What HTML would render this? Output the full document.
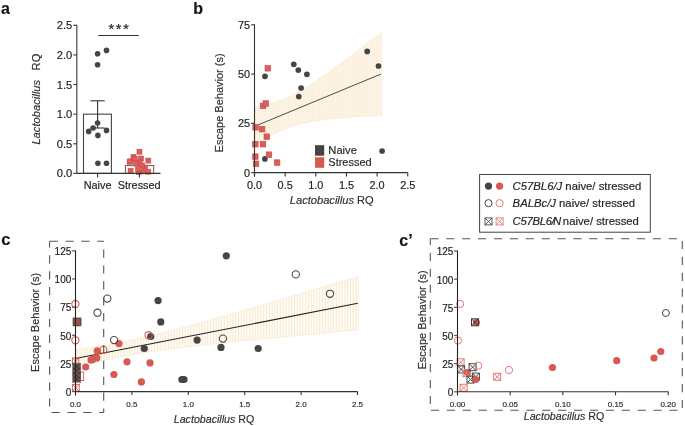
<!DOCTYPE html>
<html><head><meta charset="utf-8"><style>
html,body{margin:0;padding:0;background:#fff;width:685px;height:426px;overflow:hidden}
svg{display:block;font-family:'Liberation Sans',sans-serif}
.w{will-change:transform;filter:blur(0.3px)}
text{stroke:#2a2a2a;stroke-width:0.18px}
</style></head><body><div class="w">
<svg width="685" height="426" viewBox="0 0 685 426" style="font-family:'Liberation Sans',sans-serif">
<defs>
<pattern id="hb" width="2.2" height="10" patternUnits="userSpaceOnUse"><rect width="2.2" height="10" fill="#fdf5e6"/><rect width="0.8" height="10" fill="#fbeed9"/></pattern>
<pattern id="hc" width="2.8" height="10" patternUnits="userSpaceOnUse"><rect width="2.8" height="10" fill="#fefbf3"/><rect width="0.9" height="10" fill="#f8e9d1"/></pattern>
</defs>
<text x="1.00" y="13.70" font-size="16" text-anchor="start" fill="#111" font-weight="bold" >a</text>
<rect x="83.5" y="114.16" width="27.9" height="59.24" fill="white" stroke="#444" stroke-width="1.1"/>
<rect x="125.4" y="165.6" width="28.3" height="7.80" fill="white" stroke="#8a4a4a" stroke-width="1"/>
<line x1="97.60" y1="100.80" x2="97.60" y2="128.00" stroke="#333" stroke-width="1.1" />
<line x1="90.50" y1="100.80" x2="104.70" y2="100.80" stroke="#333" stroke-width="1.1" />
<line x1="90.50" y1="128.00" x2="104.70" y2="128.00" stroke="#333" stroke-width="1.1" />
<circle cx="97.6" cy="53.7" r="2.8" fill="#454545"/>
<circle cx="106.5" cy="50.4" r="2.8" fill="#454545"/>
<circle cx="97.6" cy="64.7" r="2.8" fill="#454545"/>
<circle cx="97.6" cy="123" r="2.8" fill="#454545"/>
<circle cx="93.1" cy="128" r="2.8" fill="#454545"/>
<circle cx="88.7" cy="131.4" r="2.8" fill="#454545"/>
<circle cx="106.5" cy="130.4" r="2.8" fill="#454545"/>
<circle cx="97.9" cy="135.4" r="2.8" fill="#454545"/>
<circle cx="97.9" cy="163.3" r="2.8" fill="#454545"/>
<circle cx="106.5" cy="163.3" r="2.8" fill="#454545"/>
<rect x="137.00" y="149.20" width="5.0" height="5.0" fill="#dc5e5a" stroke="#c44c49" stroke-width="0.6"/>
<rect x="131.00" y="154.50" width="5.0" height="5.0" fill="#dc5e5a" stroke="#c44c49" stroke-width="0.6"/>
<rect x="127.20" y="159.20" width="5.0" height="5.0" fill="#dc5e5a" stroke="#c44c49" stroke-width="0.6"/>
<rect x="138.50" y="156.00" width="5.0" height="5.0" fill="#dc5e5a" stroke="#c44c49" stroke-width="0.6"/>
<rect x="142.50" y="165.00" width="5.0" height="5.0" fill="#dc5e5a" stroke="#c44c49" stroke-width="0.6"/>
<rect x="132.20" y="156.10" width="5.0" height="5.0" fill="#dc5e5a" stroke="#c44c49" stroke-width="0.6"/>
<rect x="145.80" y="158.10" width="5.0" height="5.0" fill="#dc5e5a" stroke="#c44c49" stroke-width="0.6"/>
<rect x="127.70" y="158.90" width="5.0" height="5.0" fill="#dc5e5a" stroke="#c44c49" stroke-width="0.6"/>
<rect x="137.20" y="159.80" width="5.0" height="5.0" fill="#dc5e5a" stroke="#c44c49" stroke-width="0.6"/>
<rect x="133.50" y="161.00" width="5.0" height="5.0" fill="#dc5e5a" stroke="#c44c49" stroke-width="0.6"/>
<rect x="139.60" y="163.00" width="5.0" height="5.0" fill="#dc5e5a" stroke="#c44c49" stroke-width="0.6"/>
<rect x="128.10" y="168.40" width="5.0" height="5.0" fill="#dc5e5a" stroke="#c44c49" stroke-width="0.6"/>
<rect x="136.30" y="169.60" width="5.0" height="5.0" fill="#dc5e5a" stroke="#c44c49" stroke-width="0.6"/>
<rect x="141.30" y="168.80" width="5.0" height="5.0" fill="#dc5e5a" stroke="#c44c49" stroke-width="0.6"/>
<rect x="145.80" y="169.20" width="5.0" height="5.0" fill="#dc5e5a" stroke="#c44c49" stroke-width="0.6"/>
<rect x="135.50" y="166.70" width="5.0" height="5.0" fill="#dc5e5a" stroke="#c44c49" stroke-width="0.6"/>
<line x1="76.80" y1="24.80" x2="76.80" y2="173.90" stroke="#555" stroke-width="1.3" />
<line x1="73.30" y1="173.40" x2="76.80" y2="173.40" stroke="#444" stroke-width="1.2" />
<text x="72.30" y="177.40" font-size="11.2" text-anchor="end" fill="#222" font-weight="normal" >0.0</text>
<line x1="73.30" y1="143.78" x2="76.80" y2="143.78" stroke="#444" stroke-width="1.2" />
<text x="72.30" y="147.78" font-size="11.2" text-anchor="end" fill="#222" font-weight="normal" >0.5</text>
<line x1="73.30" y1="114.16" x2="76.80" y2="114.16" stroke="#444" stroke-width="1.2" />
<text x="72.30" y="118.16" font-size="11.2" text-anchor="end" fill="#222" font-weight="normal" >1.0</text>
<line x1="73.30" y1="84.54" x2="76.80" y2="84.54" stroke="#444" stroke-width="1.2" />
<text x="72.30" y="88.54" font-size="11.2" text-anchor="end" fill="#222" font-weight="normal" >1.5</text>
<line x1="73.30" y1="54.92" x2="76.80" y2="54.92" stroke="#444" stroke-width="1.2" />
<text x="72.30" y="58.92" font-size="11.2" text-anchor="end" fill="#222" font-weight="normal" >2.0</text>
<line x1="73.30" y1="25.30" x2="76.80" y2="25.30" stroke="#444" stroke-width="1.2" />
<text x="72.30" y="29.30" font-size="11.2" text-anchor="end" fill="#222" font-weight="normal" >2.5</text>
<line x1="76.80" y1="173.40" x2="160.50" y2="173.40" stroke="#333" stroke-width="1.2" />
<line x1="97.60" y1="173.40" x2="97.60" y2="177.40" stroke="#333" stroke-width="1.1" />
<line x1="139.40" y1="173.40" x2="139.40" y2="177.40" stroke="#333" stroke-width="1.1" />
<text x="97.60" y="189.10" font-size="10.9" text-anchor="middle" fill="#222" font-weight="normal" >Naive</text>
<text x="139.20" y="189.10" font-size="10.9" text-anchor="middle" fill="#222" font-weight="normal" >Stressed</text>
<text transform="translate(40.2,144.6) rotate(-90)" font-size="11.2" fill="#333"><tspan font-style="italic">Lactobacillus</tspan><tspan dx="9.5">RQ</tspan></text>
<line x1="98.30" y1="35.50" x2="138.70" y2="35.50" stroke="#333" stroke-width="1.1" />
<text x="111.30" y="34.20" font-size="14.5" text-anchor="middle" fill="#222" font-weight="normal" >*</text>
<text x="118.70" y="34.20" font-size="14.5" text-anchor="middle" fill="#222" font-weight="normal" >*</text>
<text x="126.10" y="34.20" font-size="14.5" text-anchor="middle" fill="#222" font-weight="normal" >*</text>
<text x="193.30" y="13.70" font-size="16" text-anchor="start" fill="#111" font-weight="bold" >b</text>
<polygon points="254.50,107.32 256.62,106.94 258.73,106.53 260.85,106.10 262.97,105.64 265.08,105.14 267.20,104.62 269.32,104.05 271.43,103.45 273.55,102.81 275.67,102.13 277.78,101.40 279.90,100.63 282.02,99.81 284.13,98.95 286.25,98.04 288.37,97.08 290.48,96.08 292.60,95.04 294.72,93.95 296.83,92.83 298.95,91.66 301.07,90.46 303.18,89.22 305.30,87.95 307.42,86.64 309.53,85.31 311.65,83.96 313.77,82.58 315.88,81.17 318.00,79.75 320.12,78.30 322.23,76.84 324.35,75.36 326.47,73.87 328.58,72.36 330.70,70.85 332.82,69.31 334.93,67.77 337.05,66.22 339.17,64.66 341.28,63.09 343.40,61.51 345.52,59.93 347.63,58.34 349.75,56.74 351.87,55.14 353.98,53.53 356.10,51.91 358.22,50.29 360.33,48.67 362.45,47.04 364.57,45.41 366.68,43.78 368.80,42.14 370.92,40.50 373.03,38.85 375.15,37.21 377.27,35.56 379.38,33.90 381.50,32.25 381.50,115.43 379.38,115.53 377.27,115.63 375.15,115.73 373.03,115.84 370.92,115.94 368.80,116.05 366.68,116.17 364.57,116.29 362.45,116.41 360.33,116.53 358.22,116.66 356.10,116.80 353.98,116.93 351.87,117.08 349.75,117.23 347.63,117.38 345.52,117.54 343.40,117.71 341.28,117.89 339.17,118.07 337.05,118.26 334.93,118.46 332.82,118.67 330.70,118.90 328.58,119.13 326.47,119.37 324.35,119.63 322.23,119.91 320.12,120.20 318.00,120.51 315.88,120.84 313.77,121.19 311.65,121.56 309.53,121.95 307.42,122.38 305.30,122.83 303.18,123.31 301.07,123.82 298.95,124.37 296.83,124.96 294.72,125.58 292.60,126.25 290.48,126.96 288.37,127.71 286.25,128.51 284.13,129.35 282.02,130.24 279.90,131.18 277.78,132.16 275.67,133.18 273.55,134.25 271.43,135.36 269.32,136.51 267.20,137.70 265.08,138.93 262.97,140.19 260.85,141.48 258.73,142.80 256.62,144.14 254.50,145.51" fill="url(#hb)" stroke="#f7e8cf" stroke-width="0.7"/>
<line x1="254.50" y1="126.42" x2="380.70" y2="74.17" stroke="#3a3a3a" stroke-width="0.9" />
<circle cx="265" cy="76.3" r="2.85" fill="#454545"/>
<circle cx="293.8" cy="64.3" r="2.85" fill="#454545"/>
<circle cx="298.3" cy="70.1" r="2.85" fill="#454545"/>
<circle cx="306.9" cy="74.3" r="2.85" fill="#454545"/>
<circle cx="301.1" cy="88" r="2.85" fill="#454545"/>
<circle cx="298.8" cy="96.6" r="2.85" fill="#454545"/>
<circle cx="367.2" cy="51.4" r="2.85" fill="#454545"/>
<circle cx="378.5" cy="66" r="2.85" fill="#454545"/>
<circle cx="382.1" cy="151" r="2.85" fill="#454545"/>
<circle cx="264.9" cy="158.9" r="2.85" fill="#454545"/>
<rect x="265.00" y="65.50" width="5.6" height="5.6" fill="#dc5e5a" stroke="#c44c49" stroke-width="0.6"/>
<rect x="260.20" y="103.10" width="5.6" height="5.6" fill="#dc5e5a" stroke="#c44c49" stroke-width="0.6"/>
<rect x="263.00" y="100.70" width="5.6" height="5.6" fill="#dc5e5a" stroke="#c44c49" stroke-width="0.6"/>
<rect x="252.80" y="124.50" width="5.6" height="5.6" fill="#dc5e5a" stroke="#c44c49" stroke-width="0.6"/>
<rect x="259.30" y="126.40" width="5.6" height="5.6" fill="#dc5e5a" stroke="#c44c49" stroke-width="0.6"/>
<rect x="264.00" y="133.90" width="5.6" height="5.6" fill="#dc5e5a" stroke="#c44c49" stroke-width="0.6"/>
<rect x="252.50" y="141.40" width="5.6" height="5.6" fill="#dc5e5a" stroke="#c44c49" stroke-width="0.6"/>
<rect x="260.20" y="141.40" width="5.6" height="5.6" fill="#dc5e5a" stroke="#c44c49" stroke-width="0.6"/>
<rect x="252.50" y="153.80" width="5.6" height="5.6" fill="#dc5e5a" stroke="#c44c49" stroke-width="0.6"/>
<rect x="266.20" y="151.90" width="5.6" height="5.6" fill="#dc5e5a" stroke="#c44c49" stroke-width="0.6"/>
<rect x="253.20" y="161.00" width="5.6" height="5.6" fill="#dc5e5a" stroke="#c44c49" stroke-width="0.6"/>
<rect x="274.30" y="159.80" width="5.6" height="5.6" fill="#dc5e5a" stroke="#c44c49" stroke-width="0.6"/>
<line x1="254.50" y1="24.30" x2="254.50" y2="176.60" stroke="#333" stroke-width="1.1" />
<line x1="251.20" y1="172.60" x2="254.50" y2="172.60" stroke="#333" stroke-width="1.1" />
<text x="250.00" y="176.50" font-size="10.9" text-anchor="end" fill="#222" font-weight="normal" >0</text>
<line x1="251.20" y1="123.33" x2="254.50" y2="123.33" stroke="#333" stroke-width="1.1" />
<text x="250.00" y="127.23" font-size="10.9" text-anchor="end" fill="#222" font-weight="normal" >25</text>
<line x1="251.20" y1="74.06" x2="254.50" y2="74.06" stroke="#333" stroke-width="1.1" />
<text x="250.00" y="77.97" font-size="10.9" text-anchor="end" fill="#222" font-weight="normal" >50</text>
<line x1="251.20" y1="24.80" x2="254.50" y2="24.80" stroke="#333" stroke-width="1.1" />
<text x="250.00" y="28.70" font-size="10.9" text-anchor="end" fill="#222" font-weight="normal" >75</text>
<line x1="254.50" y1="172.60" x2="407.60" y2="172.60" stroke="#333" stroke-width="1.1" />
<line x1="254.50" y1="172.60" x2="254.50" y2="176.60" stroke="#333" stroke-width="1.1" />
<text x="254.50" y="188.70" font-size="10.9" text-anchor="middle" fill="#222" font-weight="normal" >0.0</text>
<line x1="285.15" y1="172.60" x2="285.15" y2="176.60" stroke="#333" stroke-width="1.1" />
<text x="285.15" y="188.70" font-size="10.9" text-anchor="middle" fill="#222" font-weight="normal" >0.5</text>
<line x1="315.80" y1="172.60" x2="315.80" y2="176.60" stroke="#333" stroke-width="1.1" />
<text x="315.80" y="188.70" font-size="10.9" text-anchor="middle" fill="#222" font-weight="normal" >1.0</text>
<line x1="346.45" y1="172.60" x2="346.45" y2="176.60" stroke="#333" stroke-width="1.1" />
<text x="346.45" y="188.70" font-size="10.9" text-anchor="middle" fill="#222" font-weight="normal" >1.5</text>
<line x1="377.10" y1="172.60" x2="377.10" y2="176.60" stroke="#333" stroke-width="1.1" />
<text x="377.10" y="188.70" font-size="10.9" text-anchor="middle" fill="#222" font-weight="normal" >2.0</text>
<line x1="407.75" y1="172.60" x2="407.75" y2="176.60" stroke="#333" stroke-width="1.1" />
<text x="407.75" y="188.70" font-size="10.9" text-anchor="middle" fill="#222" font-weight="normal" >2.5</text>
<text x="331.8" y="204.4" font-size="11.1" text-anchor="middle" fill="#333"><tspan font-style="italic">Lactobacillus</tspan> RQ</text>
<text transform="translate(223.4,152.4) rotate(-90)" font-size="11" fill="#333">Escape Behavior (s)</text>
<rect x="315" y="145.2" width="9.2" height="10.5" fill="#454545"/>
<rect x="315" y="157.3" width="9.2" height="10.5" fill="#d85852"/>
<text x="328.30" y="153.80" font-size="11.2" text-anchor="start" fill="#2a2a2a" font-weight="normal" >Naive</text>
<text x="328.30" y="165.80" font-size="11.0" text-anchor="start" fill="#2a2a2a" font-weight="normal" >Stressed</text>
<rect x="479.6" y="174.5" width="170.7" height="57.7" fill="none" stroke="#444" stroke-width="1"/>
<circle cx="488.5" cy="186.1" r="3.6" fill="#454545"/>
<circle cx="499.6" cy="186.1" r="3.6" fill="#d85852"/>
<circle cx="488.5" cy="203.2" r="3.6" fill="white" stroke="#454545" stroke-width="1.0"/>
<circle cx="499.6" cy="203.2" r="3.6" fill="white" stroke="#e07a76" stroke-width="1.0"/>
<rect x="485.00" y="217.90" width="7" height="7" fill="none" stroke="#454545" stroke-width="0.9"/>
<path d="M485.00 217.90L492.00 224.90M492.00 217.90L485.00 224.90" stroke="#454545" stroke-width="0.9"/>
<rect x="496.10" y="217.90" width="7" height="7" fill="none" stroke="#e07a76" stroke-width="0.9"/>
<path d="M496.10 217.90L503.10 224.90M503.10 217.90L496.10 224.90" stroke="#e07a76" stroke-width="0.9"/>
<text x="512.6" y="189.5" font-size="11.3" fill="#222"><tspan font-style="italic" letter-spacing="0">C57BL6/J</tspan><tspan dx="0" letter-spacing="0"> naive/ stressed</tspan></text>
<text x="512.6" y="207.2" font-size="11.3" fill="#222"><tspan font-style="italic" letter-spacing="0">BALBc/J</tspan><tspan dx="0" letter-spacing="0"> naive/ stressed</tspan></text>
<text x="512.6" y="225.3" font-size="11.3" fill="#222"><tspan font-style="italic" letter-spacing="-0.3">C57BL6/<tspan dx="-1.4">N</tspan></tspan><tspan dx="-1.2" letter-spacing="0"> naive/ stressed</tspan></text>
<text x="1.20" y="245.40" font-size="16.6" text-anchor="start" fill="#111" font-weight="bold" >c</text>
<polygon points="75.50,349.79 79.03,349.31 82.57,348.81 86.10,348.30 89.64,347.77 93.17,347.23 96.70,346.68 100.24,346.10 103.77,345.51 107.30,344.90 110.84,344.27 114.37,343.62 117.91,342.96 121.44,342.27 124.97,341.56 128.51,340.83 132.04,340.08 135.57,339.32 139.11,338.53 142.64,337.73 146.18,336.91 149.71,336.07 153.24,335.22 156.78,334.35 160.31,333.47 163.84,332.58 167.38,331.68 170.91,330.76 174.44,329.83 177.98,328.90 181.51,327.96 185.05,327.01 188.58,326.05 192.11,325.08 195.65,324.11 199.18,323.13 202.71,322.15 206.25,321.16 209.78,320.17 213.32,319.17 216.85,318.17 220.38,317.16 223.92,316.16 227.45,315.14 230.98,314.13 234.52,313.11 238.05,312.09 241.59,311.07 245.12,310.05 248.65,309.02 252.19,307.99 255.72,306.96 259.25,305.93 262.79,304.90 266.32,303.86 269.86,302.82 273.39,301.79 276.92,300.75 280.46,299.71 283.99,298.66 287.52,297.62 291.06,296.58 294.59,295.53 298.13,294.49 301.66,293.44 305.19,292.39 308.73,291.34 312.26,290.30 315.79,289.25 319.33,288.20 322.86,287.14 326.40,286.09 329.93,285.04 333.46,283.99 337.00,282.93 340.53,281.88 344.06,280.83 347.60,279.77 351.13,278.72 354.67,277.66 358.20,276.61 358.20,329.85 354.67,330.18 351.13,330.50 347.60,330.83 344.06,331.15 340.53,331.48 337.00,331.81 333.46,332.13 329.93,332.46 326.40,332.79 322.86,333.12 319.33,333.45 315.79,333.78 312.26,334.11 308.73,334.44 305.19,334.77 301.66,335.10 298.13,335.44 294.59,335.77 291.06,336.11 287.52,336.44 283.99,336.78 280.46,337.12 276.92,337.46 273.39,337.80 269.86,338.14 266.32,338.49 262.79,338.83 259.25,339.18 255.72,339.53 252.19,339.88 248.65,340.23 245.12,340.58 241.59,340.94 238.05,341.30 234.52,341.66 230.98,342.02 227.45,342.39 223.92,342.76 220.38,343.13 216.85,343.50 213.32,343.88 209.78,344.27 206.25,344.65 202.71,345.04 199.18,345.44 195.65,345.84 192.11,346.25 188.58,346.67 185.05,347.09 181.51,347.52 177.98,347.95 174.44,348.40 170.91,348.85 167.38,349.32 163.84,349.80 160.31,350.28 156.78,350.78 153.24,351.30 149.71,351.83 146.18,352.37 142.64,352.93 139.11,353.51 135.57,354.10 132.04,354.71 128.51,355.35 124.97,356.00 121.44,356.67 117.91,357.36 114.37,358.08 110.84,358.81 107.30,359.56 103.77,360.33 100.24,361.12 96.70,361.92 93.17,362.75 89.64,363.59 86.10,364.44 82.57,365.31 79.03,366.19 75.50,367.09" fill="url(#hc)" stroke="#f7e8cf" stroke-width="0.7"/>
<line x1="75.50" y1="358.44" x2="357.80" y2="303.31" stroke="#222" stroke-width="1.1" />
<circle cx="226.3" cy="255.8" r="3.6" fill="#454545"/>
<circle cx="158.1" cy="300.6" r="3.6" fill="#454545"/>
<circle cx="160.8" cy="321.9" r="3.6" fill="#454545"/>
<circle cx="150.7" cy="336.5" r="3.6" fill="#454545"/>
<circle cx="144.3" cy="348.5" r="3.6" fill="#454545"/>
<circle cx="197.1" cy="340.1" r="3.6" fill="#454545"/>
<circle cx="221" cy="347.4" r="3.6" fill="#454545"/>
<circle cx="181.9" cy="379.5" r="3.6" fill="#454545"/>
<circle cx="184" cy="379.5" r="3.6" fill="#454545"/>
<circle cx="258.2" cy="348.5" r="3.6" fill="#454545"/>
<circle cx="119" cy="343.6" r="3.6" fill="#d85852"/>
<circle cx="127" cy="361.8" r="3.6" fill="#d85852"/>
<circle cx="150" cy="362.9" r="3.6" fill="#d85852"/>
<circle cx="113.9" cy="374.5" r="3.6" fill="#d85852"/>
<circle cx="141.4" cy="381.9" r="3.6" fill="#d85852"/>
<circle cx="97.3" cy="350.9" r="3.6" fill="#d85852"/>
<circle cx="96.8" cy="357.9" r="3.6" fill="#d85852"/>
<circle cx="92.6" cy="359.6" r="3.6" fill="#d85852"/>
<circle cx="85.7" cy="367" r="3.6" fill="#d85852"/>
<circle cx="91.1" cy="359.9" r="3.6" fill="#d85852"/>
<circle cx="114.1" cy="340.1" r="3.6" fill="none" stroke="#454545" stroke-width="1.1"/>
<circle cx="222.9" cy="338.6" r="3.6" fill="none" stroke="#454545" stroke-width="1.1"/>
<circle cx="295.8" cy="274.4" r="3.6" fill="none" stroke="#454545" stroke-width="1.1"/>
<circle cx="330" cy="293.8" r="3.6" fill="none" stroke="#454545" stroke-width="1.1"/>
<circle cx="97.5" cy="312.7" r="3.6" fill="none" stroke="#454545" stroke-width="1.1"/>
<circle cx="107.3" cy="298.6" r="3.6" fill="none" stroke="#454545" stroke-width="1.1"/>
<circle cx="148.6" cy="335.2" r="3.6" fill="none" stroke="#d85852" stroke-width="1.1"/>
<circle cx="103.3" cy="349.9" r="3.6" fill="none" stroke="#d85852" stroke-width="1.1"/>
<circle cx="75.4" cy="304" r="3.6" fill="none" stroke="#d85852" stroke-width="1.1"/>
<circle cx="75.4" cy="340.3" r="3.6" fill="none" stroke="#d85852" stroke-width="1.1"/>
<rect x="73.2" y="318.1" width="7.7" height="7.6" fill="#8a5454" stroke="#3a3a3a" stroke-width="1"/>
<path d="M73.2 318.1L80.9 325.7M80.9 318.1L73.2 325.7" stroke="#c04848" stroke-width="1"/>
<rect x="80.3" y="372" width="3.4" height="8.6" fill="none" stroke="#d85852" stroke-width="0.9"/>
<rect x="72.40" y="358.00" width="6.4" height="6.4" fill="none" stroke="#d85852" stroke-width="0.9"/>
<path d="M72.40 358.00L78.80 364.40M78.80 358.00L72.40 364.40" stroke="#d85852" stroke-width="0.9"/>
<rect x="72.4" y="363.3" width="8.4" height="19.2" fill="#665252"/>
<path d="M72.6 363.3L80.6 369.7M80.6 363.3L72.6 369.7" stroke="#3a2e2e" stroke-width="0.8"/>
<path d="M72.6 367.8L80.6 374.2M80.6 367.8L72.6 374.2" stroke="#3a2e2e" stroke-width="0.8"/>
<path d="M72.6 372.3L80.6 378.7M80.6 372.3L72.6 378.7" stroke="#3a2e2e" stroke-width="0.8"/>
<path d="M72.6 376.0L80.6 382.4M80.6 376.0L72.6 382.4" stroke="#3a2e2e" stroke-width="0.8"/>
<path d="M72.8 370L80.4 377M80.4 370L72.8 377" stroke="#b05050" stroke-width="0.7"/>
<rect x="72.40" y="384.30" width="6.8" height="6.8" fill="none" stroke="#d85852" stroke-width="0.9"/>
<path d="M72.40 384.30L79.20 391.10M79.20 384.30L72.40 391.10" stroke="#d85852" stroke-width="0.9"/>
<line x1="75.50" y1="250.30" x2="75.50" y2="395.60" stroke="#222" stroke-width="1.1" />
<line x1="72.10" y1="391.60" x2="75.50" y2="391.60" stroke="#555" stroke-width="1.2" />
<text x="71.30" y="395.90" font-size="10" text-anchor="end" fill="#222" font-weight="normal" >0</text>
<line x1="72.10" y1="363.44" x2="75.50" y2="363.44" stroke="#555" stroke-width="1.2" />
<text x="71.30" y="367.74" font-size="10" text-anchor="end" fill="#222" font-weight="normal" >25</text>
<line x1="72.10" y1="335.28" x2="75.50" y2="335.28" stroke="#555" stroke-width="1.2" />
<text x="71.30" y="339.58" font-size="10" text-anchor="end" fill="#222" font-weight="normal" >50</text>
<line x1="72.10" y1="307.12" x2="75.50" y2="307.12" stroke="#555" stroke-width="1.2" />
<text x="71.30" y="311.42" font-size="10" text-anchor="end" fill="#222" font-weight="normal" >75</text>
<line x1="72.10" y1="278.96" x2="75.50" y2="278.96" stroke="#555" stroke-width="1.2" />
<text x="71.30" y="283.26" font-size="10" text-anchor="end" fill="#222" font-weight="normal" >100</text>
<line x1="72.10" y1="250.80" x2="75.50" y2="250.80" stroke="#555" stroke-width="1.2" />
<text x="71.30" y="255.10" font-size="10" text-anchor="end" fill="#222" font-weight="normal" >125</text>
<line x1="75.50" y1="391.60" x2="357.60" y2="391.60" stroke="#333" stroke-width="1.1" />
<line x1="75.50" y1="391.60" x2="75.50" y2="395.10" stroke="#333" stroke-width="1.1" />
<text x="75.50" y="406.80" font-size="8" text-anchor="middle" fill="#333" font-weight="normal" >0.0</text>
<line x1="131.90" y1="391.60" x2="131.90" y2="395.10" stroke="#333" stroke-width="1.1" />
<text x="131.90" y="406.80" font-size="8" text-anchor="middle" fill="#333" font-weight="normal" >0.5</text>
<line x1="188.30" y1="391.60" x2="188.30" y2="395.10" stroke="#333" stroke-width="1.1" />
<text x="188.30" y="406.80" font-size="8" text-anchor="middle" fill="#333" font-weight="normal" >1.0</text>
<line x1="244.70" y1="391.60" x2="244.70" y2="395.10" stroke="#333" stroke-width="1.1" />
<text x="244.70" y="406.80" font-size="8" text-anchor="middle" fill="#333" font-weight="normal" >1.5</text>
<line x1="301.10" y1="391.60" x2="301.10" y2="395.10" stroke="#333" stroke-width="1.1" />
<text x="301.10" y="406.80" font-size="8" text-anchor="middle" fill="#333" font-weight="normal" >2.0</text>
<line x1="357.50" y1="391.60" x2="357.50" y2="395.10" stroke="#333" stroke-width="1.1" />
<text x="357.50" y="406.80" font-size="8" text-anchor="middle" fill="#333" font-weight="normal" >2.5</text>
<text x="214.0" y="423.1" font-size="10.65" text-anchor="middle" fill="#333"><tspan font-style="italic">Lactobacillus</tspan> RQ</text>
<text transform="translate(39.3,371.9) rotate(-90)" font-size="11" fill="#333">Escape Behavior (s)</text>
<line x1="49.6" y1="241.2" x2="103.7" y2="241.2" stroke="#555" stroke-width="1.1" stroke-dasharray="8.2 7.7" stroke-dashoffset="0"/>
<line x1="103.7" y1="241.2" x2="103.7" y2="412.5" stroke="#555" stroke-width="1.1" stroke-dasharray="8.2 7.7" stroke-dashoffset="7.6"/>
<line x1="103.7" y1="412.5" x2="49.6" y2="412.5" stroke="#555" stroke-width="1.1" stroke-dasharray="8.2 7.7" stroke-dashoffset="3.7"/>
<line x1="49.6" y1="412.5" x2="49.6" y2="241.2" stroke="#555" stroke-width="1.1" stroke-dasharray="8.2 7.7" stroke-dashoffset="10"/>
<text x="399.30" y="245.50" font-size="16" text-anchor="start" fill="#111" font-weight="bold" >c’</text>
<circle cx="552.5" cy="367.5" r="3.6" fill="#d85852"/>
<circle cx="616.7" cy="360.7" r="3.6" fill="#d85852"/>
<circle cx="654" cy="358" r="3.6" fill="#d85852"/>
<circle cx="660.8" cy="351.5" r="3.6" fill="#d85852"/>
<circle cx="476.4" cy="322.5" r="3.6" fill="#d85852"/>
<circle cx="665.9" cy="313" r="3.5" fill="none" stroke="#454545" stroke-width="1.0"/>
<circle cx="460.2" cy="303.9" r="3.6" fill="none" stroke="#e07a76" stroke-width="1.0"/>
<circle cx="457.9" cy="340.6" r="3.6" fill="none" stroke="#e07a76" stroke-width="1.0"/>
<circle cx="509" cy="370" r="3.6" fill="none" stroke="#e07a76" stroke-width="1.0"/>
<rect x="471.50" y="318.80" width="7" height="7" fill="none" stroke="#3a3a3a" stroke-width="1"/>
<path d="M471.50 318.80L478.50 325.80M478.50 318.80L471.50 325.80" stroke="#3a3a3a" stroke-width="1"/>
<rect x="457.10" y="358.80" width="7" height="7" fill="none" stroke="#e07a76" stroke-width="1"/>
<path d="M457.10 358.80L464.10 365.80M464.10 358.80L457.10 365.80" stroke="#e07a76" stroke-width="1"/>
<rect x="457.60" y="365.90" width="7" height="7" fill="none" stroke="#454545" stroke-width="1"/>
<path d="M457.60 365.90L464.60 372.90M464.60 365.90L457.60 372.90" stroke="#454545" stroke-width="1"/>
<circle cx="467.3" cy="372.4" r="3.4" fill="#d85852"/>
<rect x="463.10" y="369.70" width="7" height="7" fill="none" stroke="#e07a76" stroke-width="1"/>
<path d="M463.10 369.70L470.10 376.70M470.10 369.70L463.10 376.70" stroke="#e07a76" stroke-width="1"/>
<rect x="469.10" y="363.70" width="7" height="7" fill="none" stroke="#454545" stroke-width="1"/>
<path d="M469.10 363.70L476.10 370.70M476.10 363.70L469.10 370.70" stroke="#454545" stroke-width="1"/>
<circle cx="478.2" cy="365.6" r="3.6" fill="none" stroke="#e07a76" stroke-width="1.0"/>
<rect x="467.00" y="376.10" width="7" height="7" fill="none" stroke="#454545" stroke-width="1"/>
<path d="M467.00 376.10L474.00 383.10M474.00 376.10L467.00 383.10" stroke="#454545" stroke-width="1"/>
<rect x="472.40" y="373.10" width="7" height="7" fill="none" stroke="#454545" stroke-width="1"/>
<path d="M472.40 373.10L479.40 380.10M479.40 373.10L472.40 380.10" stroke="#454545" stroke-width="1"/>
<circle cx="475.8" cy="379.5" r="3.5" fill="#d85852"/>
<rect x="460.10" y="384.30" width="7" height="7" fill="none" stroke="#e07a76" stroke-width="1"/>
<path d="M460.10 384.30L467.10 391.30M467.10 384.30L460.10 391.30" stroke="#e07a76" stroke-width="1"/>
<rect x="493.70" y="373.30" width="7" height="7" fill="none" stroke="#e07a76" stroke-width="1"/>
<path d="M493.70 373.30L500.70 380.30M500.70 373.30L493.70 380.30" stroke="#e07a76" stroke-width="1"/>
<line x1="457.50" y1="250.55" x2="457.50" y2="395.30" stroke="#222" stroke-width="1.1" />
<line x1="454.10" y1="391.80" x2="457.50" y2="391.80" stroke="#555" stroke-width="1.2" />
<text x="453.40" y="396.10" font-size="10" text-anchor="end" fill="#222" font-weight="normal" >0</text>
<line x1="454.10" y1="363.65" x2="457.50" y2="363.65" stroke="#555" stroke-width="1.2" />
<text x="453.40" y="367.95" font-size="10" text-anchor="end" fill="#222" font-weight="normal" >25</text>
<line x1="454.10" y1="335.50" x2="457.50" y2="335.50" stroke="#555" stroke-width="1.2" />
<text x="453.40" y="339.80" font-size="10" text-anchor="end" fill="#222" font-weight="normal" >50</text>
<line x1="454.10" y1="307.35" x2="457.50" y2="307.35" stroke="#555" stroke-width="1.2" />
<text x="453.40" y="311.65" font-size="10" text-anchor="end" fill="#222" font-weight="normal" >75</text>
<line x1="454.10" y1="279.20" x2="457.50" y2="279.20" stroke="#555" stroke-width="1.2" />
<text x="453.40" y="283.50" font-size="10" text-anchor="end" fill="#222" font-weight="normal" >100</text>
<line x1="454.10" y1="251.05" x2="457.50" y2="251.05" stroke="#555" stroke-width="1.2" />
<text x="453.40" y="255.35" font-size="10" text-anchor="end" fill="#222" font-weight="normal" >125</text>
<line x1="457.50" y1="391.80" x2="668.40" y2="391.80" stroke="#333" stroke-width="1.1" />
<line x1="457.50" y1="391.80" x2="457.50" y2="395.30" stroke="#333" stroke-width="1.1" />
<text x="457.50" y="406.60" font-size="8" text-anchor="middle" fill="#333" font-weight="normal" >0.00</text>
<line x1="510.17" y1="391.80" x2="510.17" y2="395.30" stroke="#333" stroke-width="1.1" />
<text x="510.17" y="406.60" font-size="8" text-anchor="middle" fill="#333" font-weight="normal" >0.05</text>
<line x1="562.84" y1="391.80" x2="562.84" y2="395.30" stroke="#333" stroke-width="1.1" />
<text x="562.84" y="406.60" font-size="8" text-anchor="middle" fill="#333" font-weight="normal" >0.10</text>
<line x1="615.51" y1="391.80" x2="615.51" y2="395.30" stroke="#333" stroke-width="1.1" />
<text x="615.51" y="406.60" font-size="8" text-anchor="middle" fill="#333" font-weight="normal" >0.15</text>
<line x1="668.18" y1="391.80" x2="668.18" y2="395.30" stroke="#333" stroke-width="1.1" />
<text x="668.18" y="406.60" font-size="8" text-anchor="middle" fill="#333" font-weight="normal" >0.20</text>
<text x="564.0" y="419.8" font-size="10.65" text-anchor="middle" fill="#333"><tspan font-style="italic">Lactobacillus</tspan> RQ</text>
<text transform="translate(426.4,369.5) rotate(-90)" font-size="11" fill="#333">Escape Behavior (s)</text>
<line x1="430.3" y1="238.8" x2="682.3" y2="238.8" stroke="#555" stroke-width="1.1" stroke-dasharray="8.2 7.7" stroke-dashoffset="0"/>
<line x1="682.3" y1="238.8" x2="682.3" y2="410.3" stroke="#555" stroke-width="1.1" stroke-dasharray="8.2 7.7" stroke-dashoffset="13.8"/>
<line x1="682.3" y1="410.3" x2="430.3" y2="410.3" stroke="#555" stroke-width="1.1" stroke-dasharray="8.2 7.7" stroke-dashoffset="11.2"/>
<line x1="430.3" y1="410.3" x2="430.3" y2="238.8" stroke="#555" stroke-width="1.1" stroke-dasharray="8.2 7.7" stroke-dashoffset="9.7"/>
</svg></div></body></html>
